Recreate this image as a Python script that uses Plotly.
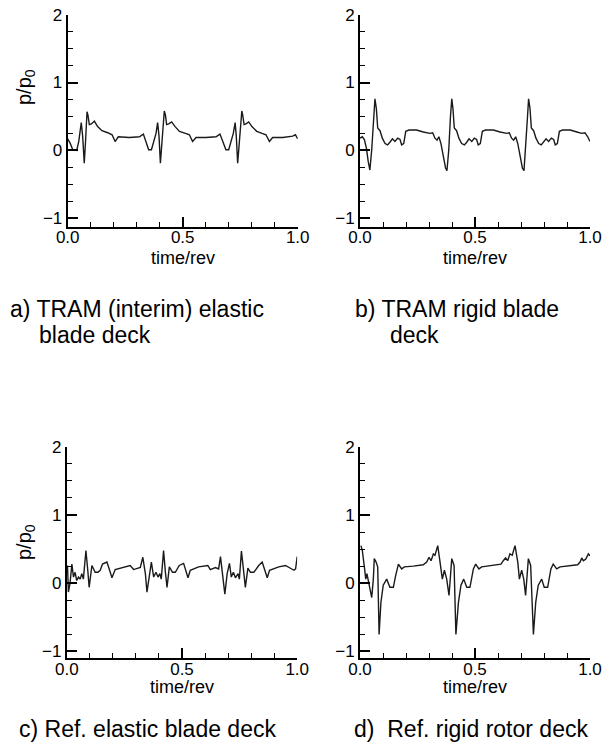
import plotly.graph_objects as go

# a) TRAM (interim) elastic blade deck
x_a = [0.000, 0.010, 0.022, 0.039, 0.048, 0.054, 0.059, 0.065, 0.072, 0.078, 0.084, 0.088, 0.094, 0.103,
       0.116, 0.130, 0.149, 0.174, 0.193, 0.206, 0.220, 0.268, 0.312, 0.329, 0.341, 0.352, 0.364, 0.372,
       0.384, 0.391, 0.397, 0.403, 0.410, 0.420, 0.425, 0.430, 0.439, 0.452, 0.467, 0.486, 0.512, 0.529,
       0.543, 0.558, 0.601, 0.645, 0.662, 0.674, 0.688, 0.700, 0.709, 0.720, 0.728, 0.733, 0.739, 0.746,
       0.757, 0.761, 0.767, 0.775, 0.787, 0.801, 0.822, 0.845, 0.862, 0.877, 0.891, 0.935, 0.978, 0.990, 1.000]
y_a = [0.17, 0.11, 0.01, 0.00, 0.13, 0.25, 0.41, 0.21, -0.19, 0.16, 0.57, 0.52, 0.38, 0.39,
       0.43, 0.35, 0.29, 0.26, 0.23, 0.13, 0.20, 0.19, 0.20, 0.24, 0.13, 0.01, 0.01, 0.12,
       0.25, 0.41, 0.21, -0.19, 0.16, 0.58, 0.52, 0.38, 0.39, 0.42, 0.35, 0.28, 0.25, 0.23,
       0.13, 0.19, 0.19, 0.20, 0.24, 0.13, 0.01, 0.01, 0.12, 0.25, 0.41, 0.21, -0.19, 0.16,
       0.58, 0.52, 0.38, 0.39, 0.42, 0.35, 0.28, 0.25, 0.23, 0.13, 0.19, 0.19, 0.21, 0.23, 0.17]

# b) TRAM rigid blade deck
x_b = [0.000, 0.010, 0.019, 0.028, 0.036, 0.043, 0.051, 0.058, 0.065, 0.071, 0.077, 0.087, 0.097, 0.109,
       0.120, 0.130, 0.141, 0.152, 0.164, 0.174, 0.181, 0.190, 0.199, 0.213, 0.246, 0.275, 0.304, 0.316,
       0.326, 0.335, 0.343, 0.352, 0.362, 0.372, 0.378, 0.386, 0.393, 0.399, 0.404, 0.410, 0.420, 0.430,
       0.442, 0.454, 0.464, 0.474, 0.486, 0.497, 0.507, 0.514, 0.523, 0.532, 0.546, 0.580, 0.609, 0.638,
       0.649, 0.659, 0.668, 0.677, 0.686, 0.696, 0.706, 0.713, 0.720, 0.728, 0.733, 0.739, 0.745, 0.755,
       0.765, 0.777, 0.788, 0.799, 0.809, 0.820, 0.832, 0.842, 0.849, 0.858, 0.867, 0.881, 0.914, 0.943,
       0.964, 0.978, 0.990, 1.000]
y_b = [0.18, 0.20, 0.16, 0.03, -0.17, -0.29, 0.01, 0.48, 0.76, 0.62, 0.33, 0.29, 0.18, 0.10,
       0.08, 0.12, 0.17, 0.13, 0.18, 0.16, 0.08, 0.10, 0.28, 0.30, 0.30, 0.27, 0.25, 0.26,
       0.18, 0.15, 0.20, 0.10, -0.09, -0.26, -0.30, 0.01, 0.48, 0.76, 0.62, 0.33, 0.29, 0.18,
       0.10, 0.08, 0.12, 0.17, 0.13, 0.18, 0.16, 0.08, 0.10, 0.28, 0.30, 0.30, 0.27, 0.25,
       0.26, 0.18, 0.15, 0.20, 0.10, -0.09, -0.26, -0.30, 0.01, 0.48, 0.76, 0.62, 0.33, 0.29,
       0.18, 0.10, 0.08, 0.12, 0.17, 0.13, 0.18, 0.16, 0.08, 0.10, 0.28, 0.30, 0.30, 0.27,
       0.25, 0.26, 0.20, 0.13]

# c) Ref. elastic blade deck
x_c = [0.003, 0.007, 0.014, 0.022, 0.029, 0.036, 0.043, 0.051, 0.058, 0.065, 0.072, 0.083, 0.091, 0.097,
       0.109, 0.123, 0.135, 0.145, 0.155, 0.174, 0.181, 0.196, 0.210, 0.239, 0.275, 0.290, 0.304, 0.319,
       0.330, 0.341, 0.348, 0.358, 0.367, 0.377, 0.387, 0.396, 0.404, 0.410, 0.420, 0.428, 0.435, 0.445,
       0.459, 0.471, 0.478, 0.488, 0.507, 0.514, 0.526, 0.536, 0.572, 0.612, 0.623, 0.645, 0.659, 0.667,
       0.677, 0.686, 0.696, 0.706, 0.714, 0.723, 0.732, 0.743, 0.749, 0.758, 0.768, 0.775, 0.786, 0.797,
       0.812, 0.822, 0.833, 0.848, 0.858, 0.870, 0.880, 0.920, 0.949, 0.964, 0.986, 0.993, 1.000]
y_c = [0.26, -0.13, 0.00, 0.28, 0.09, 0.16, 0.04, 0.09, 0.06, 0.14, 0.06, 0.48, 0.19, -0.06,
       0.26, 0.16, 0.16, 0.19, 0.28, 0.31, 0.24, 0.08, 0.20, 0.23, 0.26, 0.20, 0.21, 0.23,
       0.38, 0.14, -0.13, 0.14, 0.31, 0.09, 0.16, 0.09, 0.14, 0.06, 0.48, 0.16, -0.06, 0.24,
       0.16, 0.16, 0.21, 0.26, 0.29, 0.21, 0.08, 0.19, 0.24, 0.26, 0.20, 0.23, 0.21, 0.39,
       0.14, -0.16, 0.14, 0.29, 0.09, 0.16, 0.08, 0.14, 0.06, 0.47, 0.16, -0.06, 0.22, 0.16,
       0.16, 0.21, 0.26, 0.31, 0.21, 0.08, 0.19, 0.24, 0.26, 0.23, 0.19, 0.21, 0.39]

# d) Ref. rigid rotor deck
x_d = [0.004, 0.010, 0.019, 0.025, 0.030, 0.036, 0.043, 0.051, 0.058, 0.062, 0.070, 0.077, 0.083, 0.091,
       0.101, 0.116, 0.130, 0.145, 0.155, 0.167, 0.181, 0.193, 0.232, 0.275, 0.290, 0.300, 0.309, 0.319,
       0.326, 0.338, 0.348, 0.358, 0.367, 0.377, 0.387, 0.394, 0.399, 0.409, 0.417, 0.428, 0.439, 0.451,
       0.464, 0.478, 0.493, 0.503, 0.517, 0.529, 0.572, 0.613, 0.623, 0.633, 0.642, 0.652, 0.662, 0.674,
       0.686, 0.693, 0.703, 0.712, 0.720, 0.728, 0.732, 0.742, 0.754, 0.764, 0.775, 0.790, 0.801, 0.816,
       0.830, 0.840, 0.855, 0.870, 0.906, 0.946, 0.957, 0.964, 0.971, 0.981, 0.993, 1.000]
y_d = [0.55, 0.48, 0.24, 0.06, 0.14, 0.04, -0.08, -0.21, 0.06, 0.36, 0.31, 0.24, -0.75, -0.28,
       -0.03, 0.06, -0.06, -0.06, 0.11, 0.28, 0.21, 0.24, 0.25, 0.27, 0.31, 0.38, 0.33, 0.43,
       0.41, 0.55, 0.31, 0.06, 0.19, 0.06, -0.18, 0.16, 0.36, 0.26, -0.75, -0.28, -0.03, 0.06,
       -0.06, -0.06, 0.21, 0.28, 0.21, 0.24, 0.26, 0.28, 0.33, 0.37, 0.33, 0.43, 0.41, 0.55,
       0.31, 0.06, 0.19, 0.06, -0.18, 0.16, 0.36, 0.26, -0.75, -0.28, -0.03, 0.06, -0.06, -0.06,
       0.21, 0.28, 0.21, 0.24, 0.25, 0.27, 0.31, 0.37, 0.33, 0.35, 0.43, 0.40]

W, H = 613, 750
FONT = "Liberation Sans, Arial, sans-serif"


def px_x(v):
    return v / W


def px_y(v):
    return 1 - v / H


fig = go.Figure()
series = [(x_a, y_a), (x_b, y_b), (x_c, y_c), (x_d, y_d)]
for i, (xs, ys) in enumerate(series):
    n = "" if i == 0 else str(i + 1)
    fig.add_trace(go.Scatter(x=xs, y=ys, mode="lines", xaxis="x" + n, yaxis="y" + n,
                             line=dict(color="#1a1a1a", width=1.4), showlegend=False))

# panel domains, taken from pixel positions of the axes
xdoms = [(67.7, 297.7), (360, 590), (66.8, 297.2), (360, 590)]
ydoms = [(227, 14.7), (227, 14.7), (658.3, 446.7), (658.3, 446.7)]
yranges = [[-1.13, 2], [-1.13, 2], [-1.1, 2], [-1.1, 2]]

lay = {}
for i in range(4):
    n = "" if i == 0 else str(i + 1)
    lay["xaxis" + n] = dict(
        domain=[px_x(xdoms[i][0]), px_x(xdoms[i][1])], range=[0, 1], automargin=False,
        anchor="y" + n, showline=True, linecolor="black", linewidth=2,
        showgrid=False, zeroline=False, ticks="inside", ticklen=10, tickwidth=1.5,
        tickcolor="black", dtick=0.5, tick0=0, tickformat=".1f", ticklabelstandoff=-6,
        minor=dict(dtick=0.1, ticks="inside", ticklen=5, tickwidth=1, tickcolor="black"),
        tickfont=dict(family=FONT, size=17, color="black"), fixedrange=True)
    lay["yaxis" + n] = dict(
        domain=[px_y(ydoms[i][0]), px_y(ydoms[i][1])], range=yranges[i], automargin=False,
        anchor="x" + n, showline=True, linecolor="black", linewidth=2,
        showgrid=False, zeroline=False, ticks="inside", ticklen=10, tickwidth=1.5,
        tickcolor="black", dtick=1, tick0=0, tickformat="d",
        minor=dict(dtick=0.25, ticks="inside", ticklen=5, tickwidth=1, tickcolor="black"),
        tickfont=dict(family=FONT, size=17, color="black"), fixedrange=True)

annots = []
# x axis titles
for i in range(4):
    cx = (xdoms[i][0] + xdoms[i][1]) / 2
    cy = 258 if i < 2 else 687
    annots.append(dict(x=px_x(cx), y=px_y(cy), text="time/rev"))
# y axis titles (left panels only)
for cy in [87, 542]:
    annots.append(dict(x=px_x(25), y=px_y(cy), text="p/p<sub>0</sub>", textangle=-90,
                       font=dict(family=FONT, size=20, color="black")))

# captions
captions = [
    (8, 309, "a) TRAM (interim) elastic"),
    (37, 335, "blade deck"),
    (353, 309, "b) TRAM rigid blade"),
    (388, 335, "deck"),
    (17, 729, "c) Ref. elastic blade deck"),
    (352, 729, "d)\u00a0\u00a0Ref. rigid rotor deck"),
]
for cx, cy, txt in captions:
    annots.append(dict(x=px_x(cx), y=px_y(cy), text=txt, xanchor="left",
                       font=dict(family=FONT, size=23, color="black")))

for a in annots:
    a.setdefault("xanchor", "center")
    a.setdefault("yanchor", "middle")
    a.setdefault("font", dict(family=FONT, size=18, color="black"))
    a.update(xref="paper", yref="paper", showarrow=False)

fig.update_layout(
    width=W, height=H,
    margin=dict(l=0, r=0, t=0, b=0, autoexpand=False),
    paper_bgcolor="white", plot_bgcolor="white",
    annotations=annots,
    **lay
)

# the page body has a default 8px margin; drop it so the figure sits at 0,0
fig.write_html("out.html", config={"displayModeBar": False},
               post_script="document.body.style.margin='0px';")
